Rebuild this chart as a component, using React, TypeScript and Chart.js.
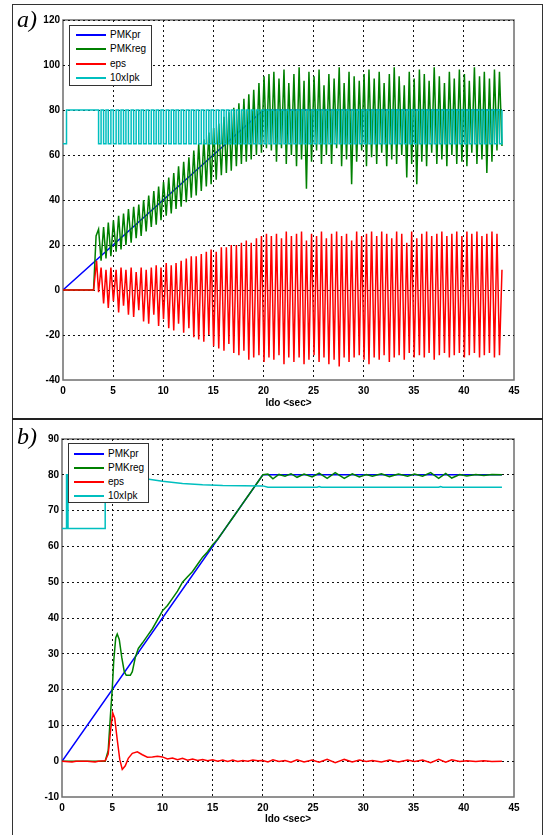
import React, { useEffect, useRef } from 'react';
import { Chart, registerables } from 'chart.js';

Chart.register(...registerables);

const FONT = '"Liberation Sans", Arial, sans-serif';

const seriesNames = ['PMKpr', 'PMKreg', 'eps', '10xIpk'];
const seriesColors = ['#0000ff', '#008000', '#ff0000', '#00bfbf'];
const xTitle = 'ldo <sec>';

// ---------- Panel a ----------
const prTimeA = [0, 20, 43.8];
const prValA = [0, 80, 80];
const regPreTimeA = [0, 3.05, 3.3];
const regPreValA = [0, 0, 24];
const epsPreTimeA = [0, 3.05, 3.35];
const epsPreValA = [0, 0, 13];
const ipkPreTimeA = [0, 0.35];
const ipkPreValA = [65, 80];

const oscTimeA = [
  3.55, 3.8, 4.05, 4.29, 4.52, 4.78, 5.03, 5.3, 5.55, 5.79,
  6.04, 6.28, 6.53, 6.8, 7.05, 7.3, 7.56, 7.8, 8.04, 8.3,
  8.55, 8.81, 9.06, 9.3, 9.54, 9.78, 10.03, 10.3, 10.55, 10.8,
  11.05, 11.28, 11.53, 11.79, 12.04, 12.3, 12.56, 12.8, 13.05, 13.29,
  13.54, 13.8, 14.05, 14.3, 14.55, 14.78, 15.03, 15.29, 15.54, 15.8,
  16.06, 16.3, 16.55, 16.79, 17.04, 17.3, 17.55, 17.8, 18.05, 18.29,
  18.54, 18.78, 19.03, 19.3, 19.55, 19.8, 20.06, 20.3, 20.55, 20.79,
  21.04, 21.3, 21.55, 21.8, 22.05, 22.28, 22.53, 22.79, 23.04, 23.3,
  23.56, 23.8, 24.05, 24.29, 24.54, 24.8, 25.05, 25.3, 25.55, 25.79,
  26.04, 26.28, 26.53, 26.8, 27.05, 27.3, 27.56, 27.8, 28.05, 28.29,
  28.54, 28.8, 29.05, 29.3, 29.56, 29.8, 30.04, 30.28, 30.53, 30.79,
  31.05, 31.3, 31.55, 31.8, 32.04, 32.3, 32.56, 32.8, 33.05, 33.29,
  33.54, 33.8, 34.05, 34.3, 34.55, 34.79, 35.04, 35.3, 35.56, 35.8,
  36.05, 36.28, 36.53, 36.79, 37.04, 37.3, 37.55, 37.8, 38.06, 38.3,
  38.55, 38.8, 39.04, 39.29, 39.55, 39.8, 40.05, 40.3, 40.54, 40.79,
  41.05, 41.3, 41.56, 41.8, 42.04, 42.29, 42.55, 42.8, 43.05, 43.3,
  43.55, 43.8,
];

const regOscA = [
  27, 13, 28, 14, 30, 15, 31, 17, 33, 18,
  34, 20, 36, 21, 37, 23, 38, 24, 40, 26,
  42, 28, 44, 29, 46, 31, 48, 33, 50, 34,
  52, 36, 55, 37, 57, 39, 59, 41, 62, 42,
  65, 44, 67, 46, 70, 47, 72, 49, 74, 51,
  77, 52, 79, 53, 81, 55, 83, 56, 85, 57,
  87, 58, 89, 60, 92, 61, 95, 63, 96, 62,
  97, 57, 94, 63, 98, 56, 92, 60, 96, 55,
  99, 58, 93, 45, 97, 57, 95, 62, 98, 56,
  91, 60, 96, 56, 94, 63, 99, 55, 92, 58,
  97, 47, 95, 57, 93, 62, 96, 55, 98, 59,
  94, 56, 97, 61, 92, 55, 96, 58, 99, 56,
  95, 60, 91, 50, 97, 56, 94, 47, 98, 57,
  96, 55, 93, 61, 99, 56, 95, 58, 92, 55,
  97, 60, 94, 56, 98, 57, 96, 55, 93, 61,
  99, 56, 95, 58, 97, 52, 94, 57, 98, 62,
  97, 64,
];

const epsOscA = [
  -1, 10, -6, 9, -8, 10, -5, 9, -10, 10,
  -7, 9, -11, 10, -12, 8, -9, 10, -14, 9,
  -15, 10, -11, 11, -16, 10, -13, 12, -17, 11,
  -18, 12, -15, 13, -19, 14, -17, 15, -21, 15,
  -22, 16, -23, 17, -20, 18, -25, 17, -26, 19,
  -27, 19, -24, 20, -28, 20, -29, 21, -27, 22,
  -31, 21, -30, 23, -29, 24, -32, 25, -30, 24,
  -31, 25, -29, 23, -33, 26, -30, 24, -32, 25,
  -30, 26, -33, 22, -31, 25, -29, 24, -32, 26,
  -30, 23, -33, 25, -31, 26, -34, 24, -30, 25,
  -32, 22, -30, 26, -29, 24, -31, 25, -33, 26,
  -30, 24, -31, 26, -29, 25, -32, 23, -30, 26,
  -29, 25, -31, 21, -28, 26, -30, 23, -29, 25,
  -30, 26, -28, 24, -31, 25, -29, 26, -28, 24,
  -30, 25, -29, 26, -28, 24, -30, 26, -29, 25,
  -28, 26, -30, 24, -29, 25, -28, 26, -30, 25,
  -29, 9,
];

const ipkOscA = [
  65, 80, 65, 80, 65, 80, 65, 80, 65, 80,
  65, 80, 65, 80, 65, 80, 65, 80, 65, 80,
  65, 80, 65, 80, 65, 80, 65, 80, 65, 80,
  65, 80, 65, 80, 65, 80, 65, 80, 65, 80,
  65, 80, 65, 80, 65, 80, 65, 80, 65, 80,
  65, 80, 65, 80, 65, 80, 65, 80, 65, 80,
  65, 80, 65, 80, 65, 80, 65, 80, 65, 80,
  65, 80, 65, 80, 65, 80, 65, 80, 65, 80,
  65, 80, 65, 80, 65, 80, 65, 80, 65, 80,
  65, 80, 65, 80, 65, 80, 65, 80, 65, 80,
  65, 80, 65, 80, 65, 80, 65, 80, 65, 80,
  65, 80, 65, 80, 65, 80, 65, 80, 65, 80,
  65, 80, 65, 80, 65, 80, 65, 80, 65, 80,
  65, 80, 65, 80, 65, 80, 65, 80, 65, 80,
  65, 80, 65, 80, 65, 80, 65, 80, 65, 80,
  65, 80, 65, 80, 65, 80, 65, 80, 65, 80,
  65, 80,
];

// ---------- Panel b ----------
const prTimeB = [0, 20, 43.8];
const prValB = [0, 80, 80];

const regTimeB = [
  0, 4.3, 4.6, 4.85, 5.0, 5.15, 5.35, 5.5, 5.7, 5.95,
  6.2, 6.4, 6.8, 7.0, 7.3, 7.6, 8.0, 8.5, 9.0, 9.5,
  10.0, 10.5, 11.0, 11.5, 12.0, 12.5, 13.0, 13.5, 14.0, 14.5,
  15.0, 15.5, 16.0, 16.5, 17.0, 17.5, 18.0, 18.5, 19.0, 19.5,
  20.0, 20.5, 21.0, 21.6, 22.2, 22.8, 23.4, 24.1, 24.9, 25.6,
  26.4, 27.2, 28.1, 28.9, 29.6, 30.3, 30.9, 31.8, 32.6, 33.5,
  34.4, 35.1, 35.9, 36.7, 37.5, 38.2, 38.8, 39.6, 40.3, 41.2,
  42.0, 42.8, 43.8,
];
const regValB = [
  0, 0, 3, 14, 20, 28, 34.5, 35.5, 34, 29,
  25, 24, 24, 25, 29, 31.5, 33, 35, 37, 39.5,
  42, 43.5, 45.5, 47.5, 50, 51.5, 53, 55, 57, 58.5,
  60.5, 62, 64, 66, 68, 70, 72, 74, 76, 78,
  80, 80.2, 78.9, 80.1, 79.6, 80.3, 79.3, 80.2, 79.4, 80.5,
  79.0, 80.6, 79.0, 80.3, 79.4, 80.1, 79.6, 80.3, 79.5, 80.2,
  79.6, 80.2, 79.6, 80.6, 79.0, 80.4, 79.1, 80.1, 79.7, 80.1,
  79.8, 80.1, 80.0,
];

const epsTimeB = [
  0, 1.0, 1.4, 2.5, 3.3, 3.6, 4.3, 4.6, 4.85, 5.05,
  5.25, 5.5, 5.75, 6.0, 6.3, 6.6, 7.0, 7.5, 8.0, 8.5,
  9.0, 9.5, 10.0, 10.5, 11.0, 11.5, 12.0, 12.5, 13.0, 13.5,
  14.0, 14.5, 15.0, 15.5, 16.0, 16.5, 17.0, 17.5, 18.0, 18.5,
  19.0, 19.5, 20.0, 20.5, 21.0, 21.6, 22.2, 22.8, 23.4, 24.1,
  24.9, 25.6, 26.4, 27.2, 28.1, 28.9, 29.6, 30.3, 30.9, 31.8,
  32.6, 33.5, 34.4, 35.1, 35.9, 36.7, 37.5, 38.2, 38.8, 39.6,
  40.3, 41.2, 42.0, 42.8, 43.8,
];
const epsValB = [
  0, -0.2, 0, 0, -0.2, 0, 0.1, 2, 9, 13.5,
  12, 6, 0.5, -2.3, -1.3, 0.8, 2.2, 2.6, 1.8, 1.1,
  1.2, 1.4, 1.2, 0.6, 0.9, 0.4, 0.8, 0.3, 0.6, 0.2,
  0.5, 0.1, 0.4, 0.0, 0.3, -0.1, 0.3, -0.1, 0.2, 0.0,
  0.3, 0.1, 0.2, -0.2, 0.4, -0.1, 0.2, -0.3, 0.4, -0.2,
  0.3, -0.3, 0.5, -0.4, 0.5, -0.2, 0.3, -0.1, 0.2, -0.2,
  0.3, -0.2, 0.3, -0.1, 0.3, -0.4, 0.5, -0.3, 0.4, -0.1,
  0.1, -0.1, 0.1, -0.1, 0.0,
];

const ipkTimeB = [0, 0.45, 0.45, 0.6, 0.6, 4.3, 4.3, 5.5, 6.5, 7.5, 8.5, 10, 12, 14, 16, 20, 20.5, 25.4, 25.6, 25.8, 37.5, 37.7, 37.9, 43.8];
const ipkValB = [65, 65, 80, 80, 65, 65, 80, 79.5, 79.1, 79.1, 78.8, 78.2, 77.6, 77.2, 77.0, 76.9, 76.5, 76.5, 76.7, 76.5, 76.5, 76.7, 76.5, 76.5];

// ---------- helpers ----------
type Pt = { x: number; y: number };
const zip = (t: number[], v: number[]): Pt[] => t.map((x, i) => ({ x, y: v[i] }));

const boxPlugin = {
  id: 'plotBox',
  beforeDraw(chart: any) {
    const { ctx, chartArea: a } = chart;
    if (!a) return;
    ctx.save();
    ctx.strokeStyle = '#6e6e6e';
    ctx.lineWidth = 1.5;
    ctx.strokeRect(a.left, a.top, a.right - a.left, a.bottom - a.top);
    ctx.restore();
  },
};

interface PanelSpec {
  height: number;
  yMin: number;
  yMax: number;
  yStep: number;
  yAxisWidth: number;
  xAxisHeight: number;
  series: { data: Pt[]; stepped?: boolean }[];
}

function buildConfig(spec: PanelSpec): any {
  const tickFont = { family: FONT, size: 10, weight: 'bold' as const };
  return {
    type: 'line',
    data: {
      datasets: spec.series.map((s, i) => ({
        label: seriesNames[i],
        data: s.data,
        borderColor: seriesColors[i],
        backgroundColor: seriesColors[i],
        borderWidth: 1.5,
        pointRadius: 0,
        tension: 0,
        fill: false,
        stepped: s.stepped ? true : false,
        order: 4 - i,
      })),
    },
    options: {
      responsive: false,
      animation: false,
      events: [],
      layout: { padding: { left: 0, right: 33, top: 20, bottom: 0 } },
      plugins: { legend: { display: false }, tooltip: { enabled: false } },
      scales: {
        x: {
          type: 'linear',
          min: 0,
          max: 45,
          ticks: { stepSize: 5, padding: 5, color: '#000', font: tickFont, autoSkip: false, maxRotation: 0 },
          grid: {
            drawTicks: false,
            lineWidth: 1,
            color: (c: any) => (c.tick && (c.tick.value === 0 || c.tick.value === 45) ? 'rgba(0,0,0,0)' : '#111'),
          },
          border: { display: false, dash: [2, 3] },
          title: { display: true, text: xTitle, color: '#000', font: tickFont, padding: { top: 0, bottom: 10 } },
          afterFit: (s: any) => { s.height = spec.xAxisHeight; },
        },
        y: {
          type: 'linear',
          min: spec.yMin,
          max: spec.yMax,
          ticks: { stepSize: spec.yStep, padding: 3, color: '#000', font: tickFont },
          grid: {
            drawTicks: false,
            lineWidth: 1,
            color: (c: any) => (c.tick && c.tick.value === spec.yMin ? 'rgba(0,0,0,0)' : '#111'),
          },
          border: { display: false, dash: [2, 3] },
          afterFit: (s: any) => { s.width = spec.yAxisWidth; },
        },
      },
    },
    plugins: [boxPlugin],
  };
}

const specA: PanelSpec = {
  height: 419,
  yMin: -40,
  yMax: 120,
  yStep: 20,
  yAxisWidth: 63,
  xAxisHeight: 39,
  series: [
    { data: zip(prTimeA, prValA) },
    { data: zip(regPreTimeA.concat(oscTimeA), regPreValA.concat(regOscA)) },
    { data: zip(epsPreTimeA.concat(oscTimeA), epsPreValA.concat(epsOscA)) },
    { data: zip(ipkPreTimeA.concat(oscTimeA), ipkPreValA.concat(ipkOscA)), stepped: true },
  ],
};

const specB: PanelSpec = {
  height: 416,
  yMin: -10,
  yMax: 90,
  yStep: 10,
  yAxisWidth: 62,
  xAxisHeight: 38,
  series: [
    { data: zip(prTimeB, prValB) },
    { data: zip(regTimeB, regValB) },
    { data: zip(epsTimeB, epsValB) },
    { data: zip(ipkTimeB, ipkValB) },
  ],
};

function ChartCanvas({ spec, top }: { spec: PanelSpec; top: number }) {
  const ref = useRef<HTMLCanvasElement>(null);
  useEffect(() => {
    if (!ref.current) return;
    const chart = new Chart(ref.current, buildConfig(spec));
    return () => chart.destroy();
  }, []);
  return (
    <canvas
      ref={ref}
      width={547}
      height={spec.height}
      style={{ position: 'absolute', left: 0, top, width: 547, height: spec.height, display: 'block' }}
    />
  );
}

function Legend({ left, top, width, height, rows, lineLeft, lineWidth, textLeft }: any) {
  return (
    <div
      style={{
        position: 'absolute', left, top, width, height, boxSizing: 'border-box',
        border: '1px solid #333', background: '#fff', fontFamily: FONT, fontSize: 10, color: '#000',
      }}
    >
      {seriesNames.map((name, i) => (
        <div key={name} style={{ position: 'absolute', left: 0, top: rows[i] - 7, height: 14, width: '100%' }}>
          <div style={{ position: 'absolute', left: lineLeft, top: 6, width: lineWidth, height: 2, background: seriesColors[i] }} />
          <div style={{ position: 'absolute', left: textLeft, top: 0, lineHeight: '14px', whiteSpace: 'nowrap' }}>{name}</div>
        </div>
      ))}
    </div>
  );
}

function PanelLabel({ text, top }: { text: string; top: number }) {
  return (
    <div
      style={{
        position: 'absolute', left: 17, top, fontFamily: '"Liberation Serif", "DejaVu Serif", serif',
        fontStyle: 'italic', fontSize: 24, lineHeight: '24px', color: '#000',
      }}
    >
      {text}
    </div>
  );
}

export default function App() {
  return (
    <div style={{ position: 'absolute', left: 0, top: 0, width: 547, height: 835, background: '#fff', overflow: 'hidden' }}>
      <ChartCanvas spec={specA} top={0} />
      <ChartCanvas spec={specB} top={419} />
      {/* frame */}
      <div style={{ position: 'absolute', left: 12, top: 4, width: 1, height: 831, background: '#333' }} />
      <div style={{ position: 'absolute', left: 542, top: 4, width: 1, height: 831, background: '#333' }} />
      <div style={{ position: 'absolute', left: 12, top: 4, width: 531, height: 1, background: '#333' }} />
      <div style={{ position: 'absolute', left: 12, top: 418, width: 531, height: 2, background: '#222' }} />
      <PanelLabel text="a)" top={7} />
      <PanelLabel text="b)" top={424} />
      <Legend left={69} top={25} width={83} height={61} rows={[9, 23.3, 37.6, 52]} lineLeft={6} lineWidth={30} textLeft={40} />
      <Legend left={68} top={443} width={81} height={60} rows={[9.7, 23.7, 38, 52]} lineLeft={5} lineWidth={30} textLeft={39} />
    </div>
  );
}
